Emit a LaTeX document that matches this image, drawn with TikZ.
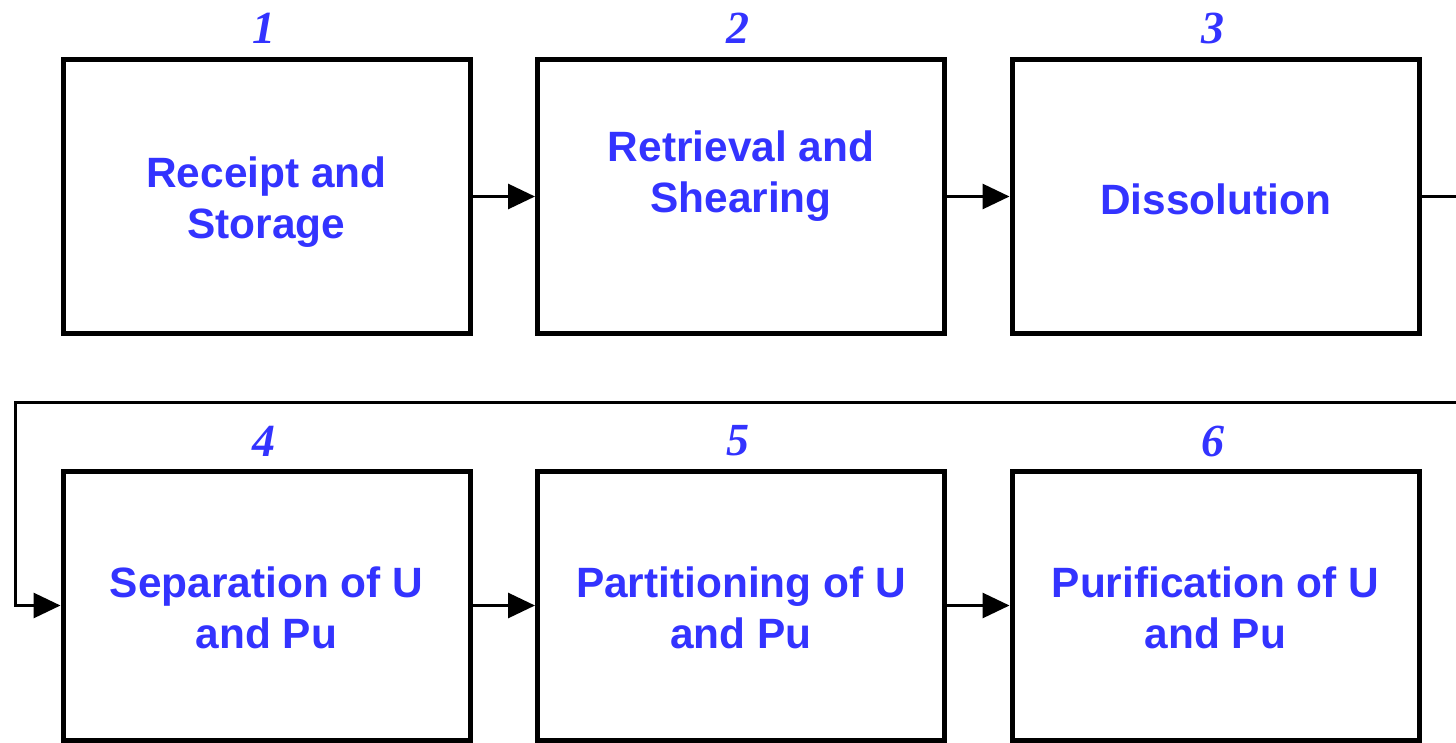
\documentclass[tikz,border=0pt]{standalone}
\usepackage{fontspec}
\setmainfont{Liberation Serif}
\setsansfont{Liberation Sans}
\usetikzlibrary{arrows.meta}
\definecolor{lblue}{RGB}{51,51,255}
\begin{document}
\begin{tikzpicture}[x=0.5pt,y=-0.5pt,
  box/.style={draw=black,line width=2.5pt,minimum width=203.5pt,inner sep=0pt},
  toprow/.style={box,minimum height=136.5pt},
  botrow/.style={box,minimum height=134.5pt},
  lbl/.style={text=lblue,font=\sffamily\bfseries\fontsize{21.2}{25.3}\selectfont,align=center},
  num/.style={text=lblue,font=\rmfamily\bfseries\itshape\fontsize{23}{23}\selectfont},
  conn/.style={line width=1.5pt,-{Triangle[length=13.5pt,width=12.5pt]}}]
\useasboundingbox (0,0) rectangle (1456,743);
% top row
\node[toprow] (b1) at (266.5,196.5) {};
\node[toprow] (b2) at (741,196.5) {};
\node[toprow] (b3) at (1215.5,196.5) {};
% bottom row
\node[botrow] (b4) at (266.5,605.5) {};
\node[botrow] (b5) at (741,605.5) {};
\node[botrow] (b6) at (1215.5,605.5) {};
% labels
\node[lbl] (t1) at (266.5,202) {Receipt and\\Storage};
\node[lbl] (t2) at (741,176) {Retrieval and\\Shearing};
\node[lbl] (t3) at (1215.5,199) {Dissolution};
\node[lbl] (t4) at (266.5,608) {Separation of U\\and Pu};
\node[lbl] (t5) at (741,608) {Partitioning of U\\and Pu};
\node[lbl] (t6) at (1215.5,608) {Purification of U\\and Pu};
% numbers
\node[num] (n1) at (264,28) {1};
\node[num] (n2) at (738,28) {2};
\node[num] (n3) at (1213,28) {3};
\node[num] (n4) at (264,441) {4};
\node[num] (n5) at (738,441) {5};
\node[num] (n6) at (1213,441) {6};
% connectors
\draw[conn] (b1.east) -- (b2.west);
\draw[conn] (b2.east) -- (b3.west);
\draw[conn] (b4.east) -- (b5.west);
\draw[conn] (b5.east) -- (b6.west);
\coordinate (r1) at (1475,196.5);
\coordinate (r2) at (1475,402);
\coordinate (l1) at (15,402);
\draw[conn] (b3.east) -- (r1) -- (r2) -- (l1) |- (b4.west);
\end{tikzpicture}
\end{document}
